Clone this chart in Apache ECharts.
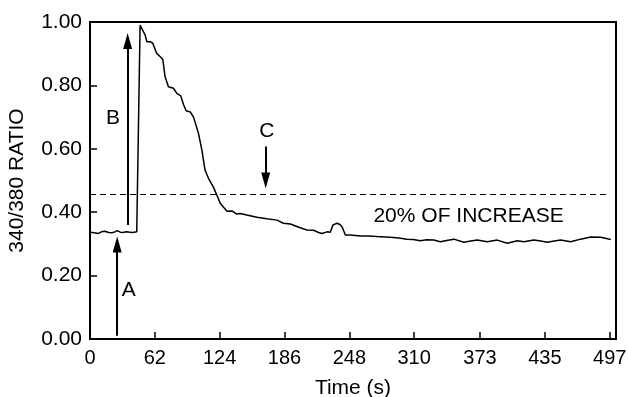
<!DOCTYPE html>
<html>
<head>
<meta charset="utf-8">
<script src="https://cdn.jsdelivr.net/npm/echarts@6/dist/echarts.min.js"></script>
<style>
  html, body { margin: 0; padding: 0; background: #fff; }
  #chart { width: 628px; height: 397px; }
</style>
</head>
<body>
<div id="chart"></div>
<script>
// time (s) and 340/380 ratio
const TIME = [0, 4, 8, 11, 14, 18, 21, 24, 26, 29, 31, 35, 38, 41, 44.7, 47.9, 52.7, 54.3, 57.5, 60,
  63.8, 67.7, 69.6, 71.8, 75, 79.8, 83, 86.8, 89.4, 91.9, 96, 99, 103.7, 107, 110, 113.3, 118, 121.3,
  124.5, 126, 131, 135.7, 140.4, 143.6, 150, 159.6, 169, 178.8, 185, 191.5, 201, 207.5, 213.8, 218.6,
  221.9, 226.6, 229.8, 232.4, 236.2, 239, 241, 244.2, 249, 258.5, 266, 274.5, 282, 290.4, 297, 303,
  309, 316, 322, 328.7, 335, 341, 348, 357.4, 364, 370.3, 379.9, 389.5, 399, 408.6, 414.9, 424.5,
  431, 437.3, 444, 450, 459.6, 469.2, 478.8, 488.4, 495, 498];
const RATIO = [0.337, 0.335, 0.333, 0.338, 0.340, 0.336, 0.335, 0.338, 0.342, 0.337, 0.336, 0.338, 0.337, 0.336, 0.338, 0.99, 0.959, 0.938, 0.938, 0.933,
  0.901, 0.889, 0.882, 0.827, 0.796, 0.791, 0.775, 0.767, 0.740, 0.720, 0.716, 0.700, 0.649, 0.596, 0.533, 0.507, 0.479, 0.454,
  0.428, 0.423, 0.403, 0.404, 0.394, 0.396, 0.391, 0.384, 0.379, 0.375, 0.365, 0.363, 0.351, 0.344, 0.343, 0.336,
  0.333, 0.338, 0.337, 0.360, 0.365, 0.361, 0.354, 0.328, 0.328, 0.325, 0.325, 0.323, 0.322, 0.320, 0.318, 0.315,
  0.314, 0.310, 0.313, 0.312, 0.307, 0.311, 0.315, 0.305, 0.309, 0.312, 0.307, 0.312, 0.302, 0.310, 0.307, 0.312,
  0.309, 0.305, 0.309, 0.312, 0.307, 0.315, 0.322, 0.321, 0.316, 0.314];

const X_TICKS = [0, 62, 124, 186, 248, 310, 373, 435, 497];
const THRESHOLD = 0.457; // 20% of increase

// annotation arrows: [time, tail ratio, head ratio]
const ARROWS = [
  [26, 0.01, 0.298],
  [36, 0.36, 0.94],
  [168, 0.607, 0.50]
];
// annotation texts: [time, ratio, text]
const NOTES = [
  [37, 0.153, "A"],
  [22, 0.696, "B"],
  [169, 0.654, "C"],
  [362, 0.386, "20% OF INCREASE"]
];

const FONT = "'Liberation Sans', Arial, sans-serif";
const seriesData = TIME.map((t, i) => [t, RATIO[i]]);

const chart = echarts.init(document.getElementById("chart"), null, { renderer: "canvas" });

chart.setOption({
  animation: false,
  backgroundColor: "#fff",
  textStyle: { fontFamily: FONT, color: "#000" },
  grid: {
    left: 90, right: 12, top: 22, bottom: 58,
    containLabel: false,
    outerBoundsMode: "none",
    show: true, borderColor: "#000", borderWidth: 2
  },
  xAxis: {
    type: "value",
    min: 0,
    max: 503,
    name: "Time (s)",
    nameLocation: "middle",
    nameGap: 39,
    nameTextStyle: { fontSize: 21, color: "#000", fontFamily: FONT },
    axisLine: { show: true, onZero: false, lineStyle: { color: "#000", width: 2 } },
    axisTick: { show: true, inside: true, length: 7, customValues: X_TICKS, lineStyle: { color: "#000", width: 1.5 } },
    axisLabel: {
      customValues: X_TICKS,
      fontSize: 20, color: "#000", margin: 9, fontFamily: FONT,
      formatter: (v) => String(Math.round(v))
    },
    splitLine: { show: false }
  },
  yAxis: {
    type: "value",
    min: 0,
    max: 1,
    interval: 0.2,
    name: "340/380 RATIO",
    nameLocation: "middle",
    nameGap: 62,
    nameTextStyle: { fontSize: 21, color: "#000", fontFamily: FONT },
    axisLine: { show: true, lineStyle: { color: "#000", width: 2 } },
    axisTick: { show: true, inside: true, length: 7, lineStyle: { color: "#000", width: 1.5 } },
    axisLabel: {
      fontSize: 21, color: "#000", margin: 8, fontFamily: FONT,
      formatter: (v) => v.toFixed(2)
    },
    splitLine: { show: false }
  },
  series: [
    {
      type: "line",
      data: seriesData,
      showSymbol: false,
      symbol: "none",
      lineStyle: { color: "#000", width: 1.5 },
      z: 3,
      markLine: {
        silent: true,
        animation: false,
        label: { show: false },
        data: [
          [
            { coord: [0, THRESHOLD], symbol: "none", lineStyle: { color: "#000", width: 1.2, type: [6, 4] } },
            { coord: [497, THRESHOLD], symbol: "none" }
          ]
        ].concat(ARROWS.map((a) => [
          { coord: [a[0], a[1]], symbol: "none", lineStyle: { color: "#000", width: 2, type: "solid" } },
          { coord: [a[0], a[2]], symbol: "triangle", symbolSize: [9, 16] }
        ]))
      },
      markPoint: {
        silent: true,
        animation: false,
        symbol: "circle",
        symbolSize: 0,
        itemStyle: { color: "transparent" },
        label: {
          show: true,
          position: "inside",
          color: "#000",
          fontSize: 21,
          fontFamily: FONT,
          formatter: (p) => p.name
        },
        data: NOTES.map((n) => ({ name: n[2], coord: [n[0], n[1]] }))
      }
    }
  ]
});
</script>
</body>
</html>
